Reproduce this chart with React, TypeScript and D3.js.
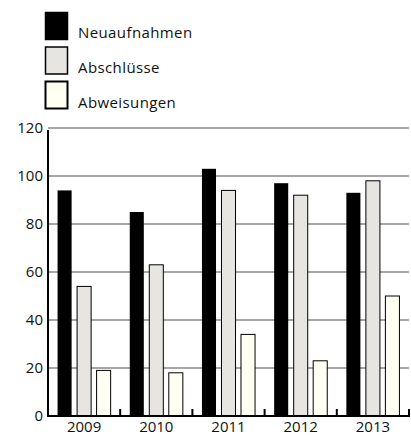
import React from "react";
import * as d3 from "d3";

const years = ["2009", "2010", "2011", "2012", "2013"];
const seriesNames = ["Neuaufnahmen", "Abschlüsse", "Abweisungen"];
const neuaufnahmen = [94, 85, 103, 97, 93];
const abschluesse = [54, 63, 94, 92, 98];
const abweisungen = [19, 18, 34, 23, 50];
const yTicks = [0, 20, 40, 60, 80, 100, 120];

const fills = ["#000000", "#e6e5e1", "#fffff2"];
const FONT = "'Open Sans', 'Noto Sans', sans-serif";

export default function App() {
  const W = 411, H = 435;
  const left = 48, right = 409, top = 128, bottom = 416;
  const x0 = d3.scaleBand<string>().domain(years).range([left, right]).paddingInner(0).paddingOuter(0);
  const x1 = d3.scaleBand<number>().domain([0, 1, 2]).range([0, x0.bandwidth()]).paddingInner(0.28).paddingOuter(0.49);
  const y = d3.scaleLinear().domain([0, 120]).range([bottom, top]);
  const data = [neuaufnahmen, abschluesse, abweisungen];

  return (
    <svg width={W} height={H} style={{ position: "absolute", left: 0, top: 0 }} fontFamily={FONT}>
      {/* legend */}
      {seriesNames.map((n, i) => (
        <g key={n}>
          <rect x={45.5} y={12.5 + i * 34.5} width={22} height={27} fill={fills[i]} stroke="#000" strokeWidth={i === 2 ? 2 : 1.5} />
          <text x={78} y={38 + i * 35} fontSize={15} letterSpacing={0.4} fill="#111">{n}</text>
        </g>
      ))}
      {/* gridlines */}
      {yTicks.filter(t => t > 0).map(t => (
        <line key={t} x1={left} x2={right} y1={y(t)} y2={y(t)} stroke="#a6a6a6" strokeWidth={2} />
      ))}
      {/* y labels */}
      {yTicks.map(t => (
        <text key={t} x={43} y={y(t)} dy="0.35em" textAnchor="end" fontSize={15} fill="#111">{t}</text>
      ))}
      {/* bars */}
      {years.map((yr, gi) => (
        <g key={yr}>
          {data.map((s, si) => (
            <rect key={si}
              x={(x0(yr) ?? 0) + (x1(si) ?? 0)}
              y={y(s[gi])}
              width={x1.bandwidth()}
              height={bottom - y(s[gi])}
              fill={fills[si]} stroke="#000" strokeWidth={si === 0 ? 0 : 1} />
          ))}
        </g>
      ))}
      {/* axes */}
      <line x1={left} x2={left} y1={top + 2} y2={bottom + 1} stroke="#000" strokeWidth={2} />
      <line x1={left - 1} x2={right + 1} y1={bottom} y2={bottom} stroke="#000" strokeWidth={2} />
      {years.map(yr => (
        <line key={yr} x1={(x0(yr) ?? 0) + x0.bandwidth()} x2={(x0(yr) ?? 0) + x0.bandwidth()} y1={bottom} y2={bottom - 7} stroke="#000" strokeWidth={2} />
      ))}
      {years.map(yr => (
        <text key={yr} x={(x0(yr) ?? 0) + x0.bandwidth() / 2} y={432} textAnchor="middle" fontSize={15} fill="#111">{yr}</text>
      ))}
    </svg>
  );
}
